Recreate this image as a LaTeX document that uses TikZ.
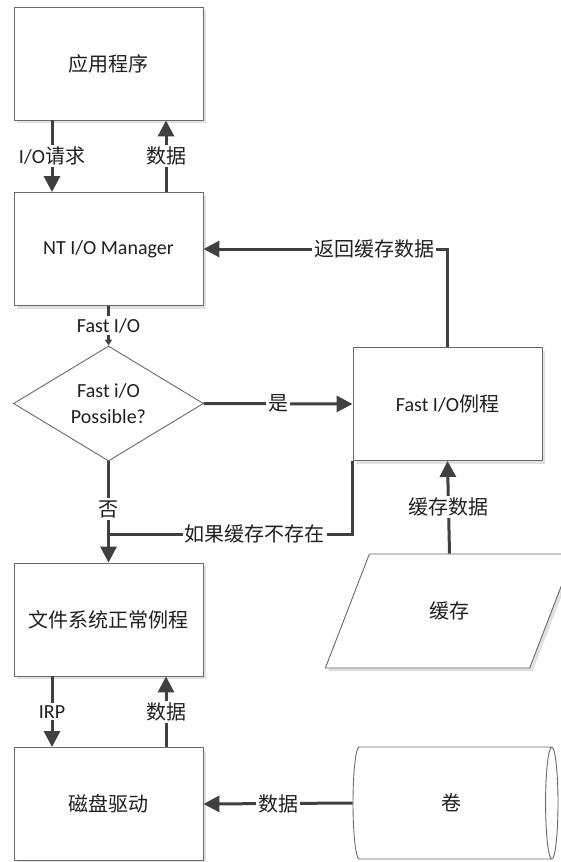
\documentclass[tikz,border=0pt]{standalone}
\usepackage{fontspec}
\setmainfont{Carlito}
\newfontfamily\cjk{Noto Sans CJK SC}
\usetikzlibrary{arrows.meta,shapes.geometric,shadows}
\definecolor{linegray}{HTML}{404040}
\definecolor{bordergray}{HTML}{6A6A6A}
\definecolor{textgray}{HTML}{1F1F1F}

\begin{document}
\begin{tikzpicture}[x=1pt, y=-1pt,
    every node/.style={font=\fontsize{20}{26}\selectfont, text=textgray},
    shade/.style={drop shadow={shadow xshift=3pt, shadow yshift=-3pt, fill=black!12, opacity=1}},
    box/.style={rectangle, draw=bordergray, line width=0.9pt, fill=white, minimum width=189pt, minimum height=113pt, shade},
    flow/.style={draw=linegray, line width=3pt, -{Triangle[length=16pt,width=16pt]}},
    plain/.style={draw=linegray, line width=3pt},
    lbl/.style={fill=white, inner sep=2pt}]
\useasboundingbox (0,0) rectangle (561,862);
\clip (0,0) rectangle (561,862);
% left column
\node[box] (app) at (108.5,63.5) {\cjk 应用程序};
\node[box] (mgr) at (108.5,249) {NT I/O Manager};
\node[diamond, draw=bordergray, line width=0.9pt, fill=white, align=center, inner sep=0pt,
    minimum width=190pt, minimum height=113pt] (chk) at (108.5,403.5) {Fast i/O\\Possible?};
\node[box] (fs) at (108.5,619.5) {\cjk 文件系统正常例程};
\node[box] (drv) at (108.5,804) {\cjk 磁盘驱动};
% right column
\node[box] (fast) at (447.5,404) {Fast I/O{\cjk 例程}};
\node[trapezium, trapezium left angle=63, trapezium right angle=117, trapezium stretches=true,
    draw=bordergray, line width=0.9pt, fill=white, minimum width=249pt, minimum height=114pt, shade] (cache) at (449.5,611) {\cjk 缓存};
\node[cylinder, anchor=shape center, draw=bordergray, line width=0.9pt, fill=white, aspect=0.5,
    minimum width=112pt, minimum height=205pt] (vol) at (455.5,803) {\cjk 卷};
\coordinate (join) at (108.5,534);
% connectors
\draw[flow] ([xshift=-56.5pt]app.south) -- node[lbl] {I/O{\cjk 请求}} ([xshift=-56.5pt]mgr.north);
\draw[flow] ([xshift=57.5pt]mgr.north) -- node[lbl] {\cjk 数据} ([xshift=57.5pt]app.south);
\draw[draw=linegray, line width=2.4pt, -{Triangle[length=6pt,width=7pt]}] (mgr.south) -- node[lbl] {Fast I/O} (chk.north);
\draw[flow] (chk.east) -- node[lbl] {\cjk 是} (fast.west);
\draw[flow] (chk.south) -- node[lbl, pos=0.47] {\cjk 否} (fs.north);
\draw[plain] (fast.south west) |- node[lbl, pos=0.7] {\cjk 如果缓存不存在} (join);
\draw[flow] (fast.north) |- node[lbl, pos=0.65] {\cjk 返回缓存数据} (mgr.east);
\draw[flow] (cache.north) -- node[lbl] {\cjk 缓存数据} (fast.south);
\draw[flow] ([xshift=-56.5pt]fs.south) -- node[lbl] {IRP} ([xshift=-56.5pt]drv.north);
\draw[flow] ([xshift=57.5pt]drv.north) -- node[lbl] {\cjk 数据} ([xshift=57.5pt]fs.south);
\draw[flow] (vol.west) -- node[lbl] {\cjk 数据} (drv.east);
\end{tikzpicture}
\end{document}
